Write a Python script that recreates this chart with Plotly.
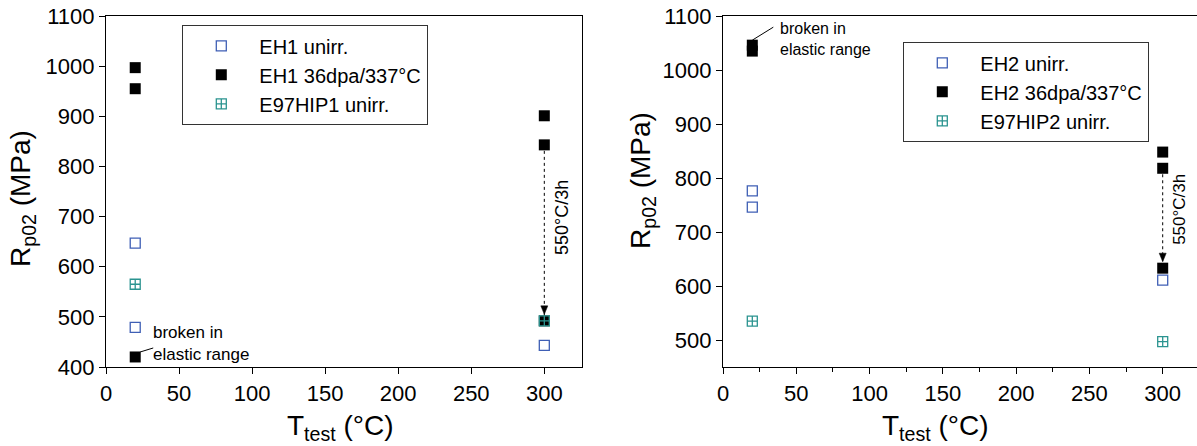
import plotly.graph_objects as go

# ---------------- data ----------------
# Left panel (EH1)
eh1_unirr_T = [20, 20, 300]
eh1_unirr_R = [647, 479, 443]
eh1_irr_T = [20, 20, 20, 300, 300, 300]
eh1_irr_R = [997, 955, 420, 901, 843, 492]
e97hip1_T = [20, 300]
e97hip1_R = [565, 492]

# Right panel (EH2)
eh2_unirr_T = [20, 20, 300]
eh2_unirr_R = [776, 746, 611]
eh2_irr_T = [20, 20, 300, 300, 300]
eh2_irr_R = [1046, 1035, 848, 818, 633]
e97hip2_T = [20, 300]
e97hip2_R = [535, 497]

x_ticks = [0, 50, 100, 150, 200, 250, 300]
y_ticks_left = [400, 500, 600, 700, 800, 900, 1000, 1100]
y_ticks_right = [500, 600, 700, 800, 900, 1000, 1100]

# annealing arrows (from irradiated value to annealed value at 300 °C)
anneal_T = 300
anneal_left = (eh1_irr_R[4], eh1_irr_R[5])
anneal_right = (eh2_irr_R[3], eh2_irr_R[4])
# specimens broken in elastic range
broken_left = (eh1_irr_T[2], eh1_irr_R[2])
broken_right = (eh2_irr_T[0], eh2_irr_R[0])

W, H = 1197, 446
FONT = "Arial, Liberation Sans, sans-serif"
BLUE = "#3f5fb5"
TEAL = "#2b9490"


def px_x(p):
    return p / W


def px_y(p):
    return (H - p) / H


fig = go.Figure()


def add_series(T, R, name, kind, xa, ya, legend):
    if kind == "open":
        marker = dict(symbol="square-open", size=10, color=BLUE, line=dict(width=1.3, color=BLUE))
    elif kind == "filled":
        marker = dict(symbol="square", size=11, color="black", line=dict(width=0))
    else:
        marker = dict(symbol="square-cross-open", size=10, color=TEAL, line=dict(width=1.3, color=TEAL))
    fig.add_trace(go.Scatter(x=T, y=R, mode="markers", name=name, marker=marker,
                             xaxis=xa, yaxis=ya, legend=legend, showlegend=True))


add_series(eh1_unirr_T, eh1_unirr_R, "EH1 unirr.", "open", "x", "y", "legend")
add_series(eh1_irr_T, eh1_irr_R, "EH1 36dpa/337°C", "filled", "x", "y", "legend")
add_series(e97hip1_T, e97hip1_R, "E97HIP1 unirr.", "cross", "x", "y", "legend")

add_series(eh2_unirr_T, eh2_unirr_R, "EH2 unirr.", "open", "x2", "y2", "legend2")
add_series(eh2_irr_T, eh2_irr_R, "EH2 36dpa/337°C", "filled", "x2", "y2", "legend2")
add_series(e97hip2_T, e97hip2_R, "E97HIP2 unirr.", "cross", "x2", "y2", "legend2")

ydom = [px_y(367), px_y(16)]
left_dom = [px_x(106), px_x(582)]
right_dom = [px_x(723), 1.0]
xr_left = [0, 325.8]
xr_right = [0, 323.4]
TICKFONT = dict(family=FONT, size=22, color="black")

axis_common = dict(showline=True, linecolor="black", linewidth=1.3, ticks="outside",
                   ticklen=6, tickwidth=1.3, tickcolor="black", showgrid=False, zeroline=False,
                   tickfont=TICKFONT, automargin=False)
inner = dict(ticks="inside", ticklen=5, tickwidth=1.2, tickcolor="black", showticklabels=False,
             showline=False, showgrid=False, zeroline=False)

fig.update_layout(
    xaxis=dict(domain=left_dom, range=xr_left, tickvals=x_ticks, anchor="y", mirror=True, **axis_common),
    yaxis=dict(domain=ydom, range=[400, 1100], tickvals=y_ticks_left, anchor="x", mirror=True, **axis_common),
    xaxis2=dict(domain=right_dom, range=xr_right, tickvals=x_ticks, anchor="y2", mirror=True,
                minor=dict(dtick=25, tick0=0, ticks="outside", ticklen=3.5, tickwidth=1.2, tickcolor="black"),
                **axis_common),
    yaxis2=dict(domain=ydom, range=[450, 1100], tickvals=y_ticks_right, anchor="x2", mirror=False, **axis_common),
    # inner ticks on the opposite frame edges
    xaxis3=dict(overlaying="x", anchor="y", side="top", range=xr_left, tickvals=x_ticks, **inner),
    yaxis3=dict(overlaying="y", anchor="x", side="right", range=[400, 1100], tickvals=y_ticks_left, **inner),
    xaxis4=dict(overlaying="x2", anchor="y2", side="top", range=xr_right, tickvals=x_ticks, **inner),
    width=W, height=H,
    margin=dict(l=0, r=0, t=0, b=0),
    plot_bgcolor="white", paper_bgcolor="white",
    font=dict(family=FONT, color="black"),
    legend=dict(x=px_x(182), y=px_y(25), xanchor="left", yanchor="top",
                bordercolor="#333333", borderwidth=1.3, bgcolor="white",
                font=dict(family=FONT, size=20, color="black"), itemwidth=66,
                tracegroupgap=0),
    legend2=dict(x=px_x(903), y=px_y(42), xanchor="left", yanchor="top",
                 bordercolor="#333333", borderwidth=1.3, bgcolor="white",
                 font=dict(family=FONT, size=20, color="black"), itemwidth=66,
                 tracegroupgap=0),
)

# dotted annealing lines (beneath the markers) and arrowheads
for xr, yr, (y_from, y_to) in (("x", "y", anneal_left), ("x2", "y2", anneal_right)):
    fig.add_shape(type="line", xref=xr, yref=yr, x0=anneal_T, x1=anneal_T, y0=y_from, y1=y_to,
                  line=dict(color="black", width=1, dash="dot"), layer="below")
    fig.add_shape(type="path", xref=xr, yref=yr, xsizemode="pixel", ysizemode="pixel",
                  xanchor=anneal_T, yanchor=y_to, path="M 0 6.5 L -3.5 15 L 3.5 15 Z",
                  fillcolor="black", line=dict(color="black", width=0.5))

# leader lines for "broken in elastic range"
fig.add_shape(type="line", xref="x", yref="y", xsizemode="pixel", ysizemode="pixel",
              xanchor=broken_left[0], yanchor=broken_left[1], x0=5, y0=5, x1=18, y1=9,
              line=dict(color="black", width=1))
fig.add_shape(type="line", xref="x2", yref="y2", xsizemode="pixel", ysizemode="pixel",
              xanchor=broken_right[0], yanchor=broken_right[1], x0=0, y0=5, x1=21, y1=18,
              line=dict(color="black", width=1))

ann = []
# 550°C/3h labels
ann.append(dict(x=312, y=699, xref="x", yref="y", text="550°C/3h", textangle=-90, showarrow=False,
                font=dict(family=FONT, size=18, color="black")))
ann.append(dict(x=311.8, y=741, xref="x2", yref="y2", text="550°C/3h", textangle=-90, showarrow=False,
                font=dict(family=FONT, size=17, color="black")))
# broken in elastic range
ann.append(dict(x=30.8, y=447, xref="x", yref="y", text="broken in<br>elastic range", align="left",
                xanchor="left", yanchor="middle", showarrow=False, font=dict(family=FONT, size=17, color="black")))
ann.append(dict(x=37.5, y=1057, xref="x2", yref="y2", text="broken in<br>elastic range", align="left",
                xanchor="left", yanchor="middle", showarrow=False, font=dict(family=FONT, size=16, color="black")))
# axis titles
ann.append(dict(x=px_x(23), y=px_y(199), xref="paper", yref="paper", text="R<sub>p02</sub> (MPa)",
                textangle=-90, showarrow=False, xanchor="center", yanchor="middle",
                font=dict(family=FONT, size=28, color="black")))
ann.append(dict(x=px_x(643), y=px_y(181), xref="paper", yref="paper", text="R<sub>p02</sub> (MPa)",
                textangle=-90, showarrow=False, xanchor="center", yanchor="middle",
                font=dict(family=FONT, size=28, color="black")))
ann.append(dict(x=px_x(340), y=px_y(427), xref="paper", yref="paper", text="T<sub>test</sub> (°C)",
                showarrow=False, xanchor="center", yanchor="middle",
                font=dict(family=FONT, size=28, color="black")))
ann.append(dict(x=px_x(935), y=px_y(427), xref="paper", yref="paper", text="T<sub>test</sub> (°C)",
                showarrow=False, xanchor="center", yanchor="middle",
                font=dict(family=FONT, size=28, color="black")))
fig.update_layout(annotations=ann)

fig.write_html("out.html")
